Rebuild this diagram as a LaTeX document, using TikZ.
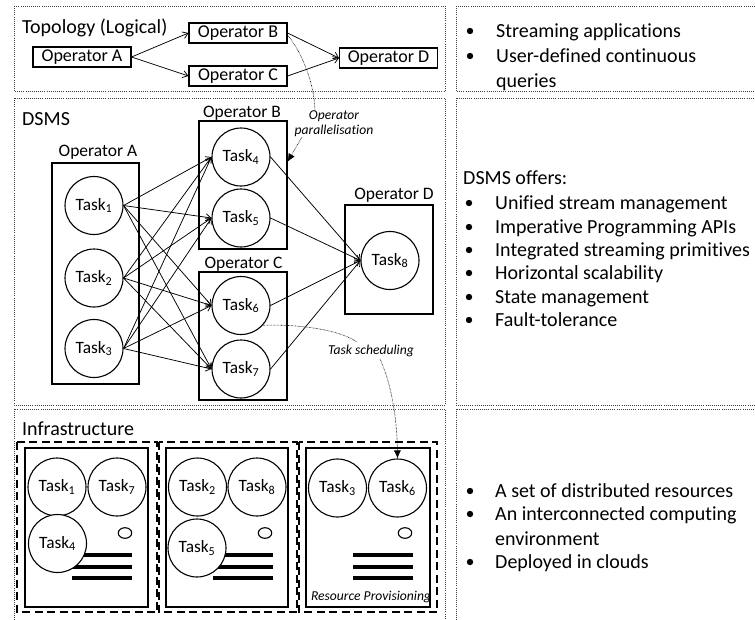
\documentclass[tikz,border=0pt]{standalone}
\usepackage{fontspec}
\setmainfont{Carlito}[Ligatures=NoCommon]
\usetikzlibrary{arrows.meta,calc}

\begin{document}
\begin{tikzpicture}[x=1pt,y=-1pt,
  panel/.style={draw=black!75, line width=0.7pt, dash pattern=on 0.7pt off 1.4pt},
  opbox/.style={draw, line width=1.1pt, inner sep=0pt, minimum width=98pt, minimum height=20pt,
    font=\fontsize{18}{20}\selectfont},
  group/.style={draw, line width=1.2pt, inner sep=0pt},
  oplabel/.style={anchor=base, inner sep=0pt, font=\fontsize{17.5}{20}\selectfont},
  task/.style={draw, circle, line width=1.1pt, minimum size=58pt, inner sep=0pt, fill=white,
    font=\fontsize{17.3}{20}\selectfont},
  flow/.style={line width=0.75pt, -{Straight Barb[length=5pt,width=7pt]}},
  annot/.style={line width=0.6pt, dash pattern=on 0.6pt off 0.8pt},
  pointer/.style={annot, -{Latex[length=8pt,width=7pt]}},
  note/.style={font=\fontsize{13.6}{16}\selectfont\itshape, inner sep=0pt, align=center},
  title/.style={font=\fontsize{20}{24}\selectfont, anchor=base west, inner sep=0pt},
  item/.style={font=\fontsize{20}{24}\selectfont, anchor=base west, inner sep=0pt},
  host/.style={draw, line width=1.2pt, dash pattern=on 8pt off 4.5pt},
  rack/.style={draw, line width=1.2pt},
  slot/.style={line width=4pt}
]
\useasboundingbox (0,0) rectangle (755,619);
\clip (0,0) rectangle (755,619);

% layer panels
\draw[panel] (14,6) rectangle (445,91);
\draw[panel] (14,98) rectangle (445,405);
\draw[panel] (14,409) rectangle (445,630);
\draw[panel] (456,6) rectangle (765,91);
\draw[panel] (456,98) rectangle (765,405);
\draw[panel] (456,409) rectangle (765,630);

% ---------- logical topology ----------
\node[title] (ttitle) at (22,33.5) {Topology (Logical)};
\node[opbox] (tA) at (82,57) {Operator A};
\node[opbox] (tB) at (238,33) {Operator B};
\node[opbox] (tC) at (238,76) {Operator C};
\node[opbox] (tD) at (388.5,58) {Operator D};
\draw[flow] (tA.east) -- (tB.west);
\draw[flow] (tA.east) -- (tC.west);
\draw[flow] (tB.east) -- (tD.west);
\draw[flow] (tC.east) -- (tD.west);

% ---------- DSMS ----------
\node[title] (dtitle) at (22,125) {DSMS};

\node[group, minimum width=87pt, minimum height=221pt] (dA) at (95.5,273.5) {};
\node[group, minimum width=88pt, minimum height=128pt] (dB) at (243,185) {};
\node[group, minimum width=88pt, minimum height=128pt] (dC) at (243,336) {};
\node[group, minimum width=88pt, minimum height=109pt] (dD) at (389,259.5) {};
\node[oplabel] (labA) at (98,156) {Operator A};
\node[oplabel] (labB) at (242,117) {Operator B};
\node[oplabel] (labC) at (243.5,268) {Operator C};
\node[oplabel] (labD) at (394,199) {Operator D};

\node[task] (dT1) at (94,205.5) {Task\textsubscript{1}};
\node[task] (dT2) at (94,278) {Task\textsubscript{2}};
\node[task] (dT3) at (94,348.5) {Task\textsubscript{3}};
\node[task] (dT4) at (241,157) {Task\textsubscript{4}};
\node[task] (dT5) at (241,218) {Task\textsubscript{5}};
\node[task] (dT6) at (241,305.5) {Task\textsubscript{6}};
\node[task] (dT7) at (241,369) {Task\textsubscript{7}};
\node[task] (dT8) at (390,260.5) {Task\textsubscript{8}};

\foreach \s in {1,2,3}
  \foreach \t in {4,5,6,7}
    \draw[flow] (dT\s.east) -- (dT\t.west);
\foreach \s in {4,5,6,7}
  \draw[flow] (dT\s.east) -- (dT8.west);

% operator parallelisation note
\node[note] (parnote) at (334,124) {Operator\\[-1pt]parallelisation};
\coordinate (parstart) at ([yshift=-2pt]tB.east);
\coordinate (parin) at (315,110);
\draw[annot] (parstart) .. controls (300,50) and (314,80) .. (parin);
\draw[pointer] (302,137) -- ($(dB.north east)!0.32!(dB.south east)$);

% task scheduling note
\node[note] (schednote) at (371,351) {Task scheduling};
\draw[annot] (dT6.-42) .. controls (300,324) and (340,330) .. (357,342);

% ---------- infrastructure ----------
\node[title] (ititle) at (22,435) {Infrastructure};

\draw[host] (17,442) rectangle (157,612);
\draw[host] (159,442) rectangle (297,612);
\draw[host] (299,442) rectangle (437,612);
\draw[rack] (25,448) rectangle (148,607);
\draw[rack] (166,448) rectangle (288,607);
\draw[rack] (306,448) rectangle (430,607);

% status lights and drive slots
\foreach \cx/\lx in {125/72, 265/213, 405/353} {
  \draw[line width=1.1pt] (\cx,533) ellipse [x radius=6.7pt, y radius=5.3pt];
  \foreach \ly in {555,567,578}
    \draw[slot] (\lx,\ly) -- ++(60,0);
}

\node[task] (iT1) at (57,487) {Task\textsubscript{1}};
\node[task] (iT7) at (117,487) {Task\textsubscript{7}};
\node[task] (iT4) at (57.5,543.5) {Task\textsubscript{4}};
\node[task] (iT2) at (197.5,487) {Task\textsubscript{2}};
\node[task] (iT8) at (257,487) {Task\textsubscript{8}};
\node[task] (iT5) at (197,548) {Task\textsubscript{5}};
\node[task] (iT3) at (337.5,488) {Task\textsubscript{3}};
\node[task] (iT6) at (397.5,488) {Task\textsubscript{6}};

\node[note] (provnote) at (371,597) {Resource Provisioning};

\draw[pointer] (380,359) .. controls (392,385) and (397,420) .. (iT6.north);

% ---------- descriptions ----------
\fill (470,31) circle [radius=3.2pt];
\fill (470,56) circle [radius=3.2pt];
\node[item] (r1) at (496,37) {Streaming applications};
\node[item] (r2) at (496,62) {User-defined continuous};
\node[item] (r3) at (496,87) {queries};

\node[item] (m0) at (463,184) {DSMS offers:};
\foreach \y/\txt [count=\i] in {209/Unified stream management,
    233/Imperative Programming APIs,
    256/Integrated streaming primitives,
    279/Horizontal scalability,
    303/State management,
    326/Fault-tolerance} {
  \fill (469,\y-6) circle [radius=3.2pt];
  \node[item] (m\i) at (495,\y) {\txt};
}

\fill (470,491) circle [radius=3.2pt];
\fill (470,514) circle [radius=3.2pt];
\fill (470,562) circle [radius=3.2pt];
\node[item] (b1) at (495,497) {A set of distributed resources};
\node[item] (b2) at (495,520) {An interconnected computing};
\node[item] (b3) at (495,545) {environment};
\node[item] (b4) at (495,568) {Deployed in clouds};
\end{tikzpicture}
\end{document}
